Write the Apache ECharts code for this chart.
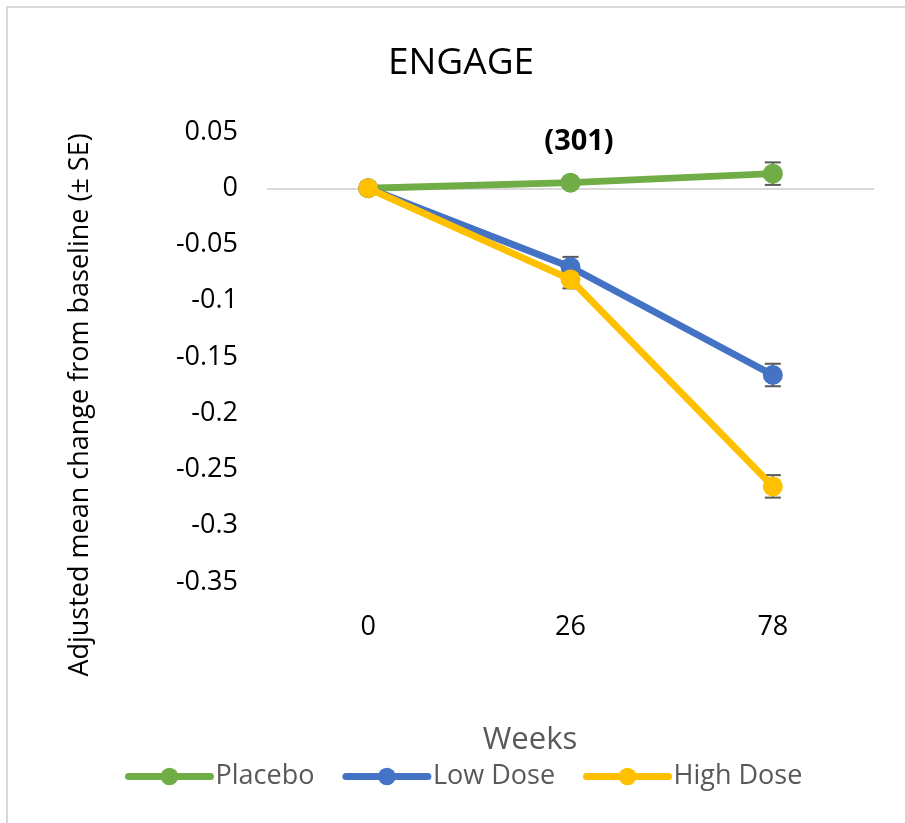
<!DOCTYPE html>
<html>
<head>
<meta charset="utf-8">
<script src="https://cdn.jsdelivr.net/npm/echarts@6/dist/echarts.min.js"></script>
<style>html,body{margin:0;padding:0;background:#fff;}#c{width:905px;height:823px;}</style>
</head>
<body>
<div id="c"></div>
<script>
const weeks = ['0', '26', '78'];
const seriesNames = ['Placebo', 'Low Dose', 'High Dose'];
const placebo = [0, 0.005, 0.013];
const lowDose = [0, -0.070, -0.166];
const highDose = [0, -0.081, -0.265];
const placeboSE = [0, 0.004, 0.010];
const lowDoseSE = [0, 0.009, 0.010];
const highDoseSE = [0, 0.008, 0.010];
const yTicks = [0.05, 0, -0.05, -0.1, -0.15, -0.2, -0.25, -0.3, -0.35];

const colors = ['#70ad47', '#4472c4', '#ffc000'];
const values = [placebo, lowDose, highDose];
const ses = [placeboSE, lowDoseSE, highDoseSE];
const FONT = '"Open Sans", sans-serif';

const chart = echarts.init(document.getElementById('c'));

function errRender(params, api) {
  const i = api.value(0), v = api.value(1), e = api.value(2);
  if (!e) return null;
  const t = api.coord([i, v + e]);
  const b = api.coord([i, v - e]);
  const hw = 8;
  const st = { stroke: '#595959', lineWidth: 2 };
  return {
    type: 'group',
    children: [
      { type: 'line', shape: { x1: t[0], y1: t[1], x2: b[0], y2: b[1] }, style: st },
      { type: 'line', shape: { x1: t[0] - hw, y1: t[1], x2: t[0] + hw, y2: t[1] }, style: st },
      { type: 'line', shape: { x1: b[0] - hw, y1: b[1], x2: b[0] + hw, y2: b[1] }, style: st }
    ]
  };
}

const series = [];
seriesNames.forEach((n, k) => {
  series.push({
    name: n + ' SE',
    type: 'custom',
    renderItem: errRender,
    data: weeks.map((w, i) => [i, values[k][i], ses[k][i]]),
    encode: { x: 0, y: 1 },
    z: 1,
    silent: true
  });
});
seriesNames.forEach((n, k) => {
  const s = {
    name: n,
    type: 'line',
    data: values[k],
    symbol: 'circle',
    symbolSize: 20,
    itemStyle: { color: colors[k] },
    lineStyle: { color: colors[k], width: 7 },
    z: 3 + k,
    animation: false
  };
  if (k === 0) {
    s.markLine = {
      silent: true, symbol: 'none', label: { show: false },
      lineStyle: { color: '#d9d9d9', width: 2, type: 'solid' },
      data: [{ yAxis: 0 }],
      z: 0
    };
  }
  series.push(s);
});

chart.setOption({
  animation: false,
  backgroundColor: '#fff',
  grid: { left: 267, right: 31, top: 132, bottom: 241 },
  xAxis: {
    type: 'category',
    data: weeks,
    boundaryGap: true,
    axisLine: { show: false },
    axisTick: { show: false },
    splitLine: { show: false },
    axisLabel: { margin: 32, fontSize: 27, color: '#000', fontFamily: FONT }
  },
  yAxis: {
    type: 'value',
    min: -0.35, max: 0.05, interval: 0.05,
    axisLine: { show: false },
    axisTick: { show: false },
    splitLine: { show: false },
    axisLabel: {
      margin: 29, fontSize: 27, color: '#000', fontFamily: FONT,
      formatter: v => { const r = Math.round(v * 100) / 100; return String(r); }
    }
  },
  legend: {
    data: seriesNames,
    left: 120, top: 758,
    itemWidth: 82, itemHeight: 22, itemGap: 28,
    lineStyle: { width: 7, cap: 'round' },
    textStyle: { fontSize: 27, color: '#595959', fontFamily: FONT }
  },
  graphic: [
    { type: 'rect', shape: { x: 7, y: 7, width: 1200, height: 1200 }, style: { fill: 'none', stroke: '#d9d9d9', lineWidth: 2 }, silent: true, z: -10 },
    { type: 'text', x: 461, y: 63, style: { text: 'ENGAGE', font: '37px ' + FONT, fill: '#000', textAlign: 'center', textVerticalAlign: 'middle' } },
    { type: 'text', x: 579, y: 142, style: { text: '(301)', font: 'bold 29px ' + FONT, fill: '#000', textAlign: 'center', textVerticalAlign: 'middle' } },
    { type: 'text', x: 530, y: 740, style: { text: 'Weeks', font: '31px ' + FONT, fill: '#595959', textAlign: 'center', textVerticalAlign: 'middle' } },
    { type: 'text', x: 80, y: 405, rotation: Math.PI / 2, style: { text: 'Adjusted mean change from baseline (± SE)', font: '27px ' + FONT, fill: '#000', textAlign: 'center', textVerticalAlign: 'middle' } }
  ],
  series: series
});
</script>
</body>
</html>
